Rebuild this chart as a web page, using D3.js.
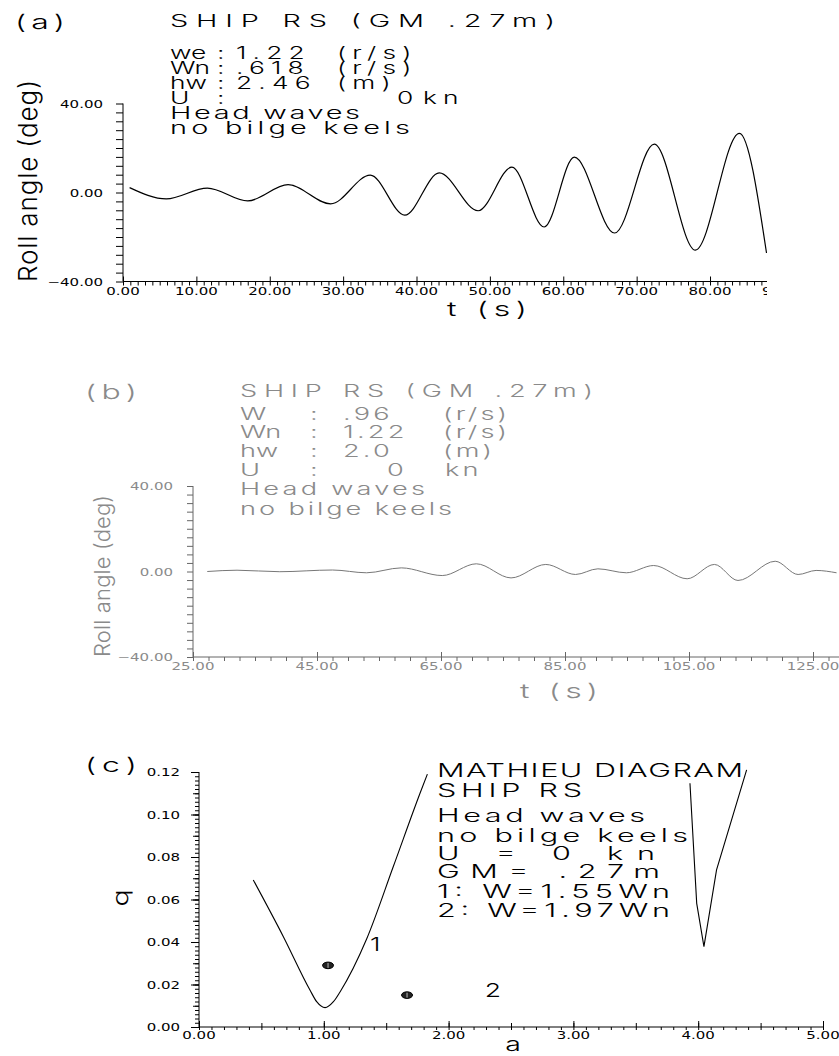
<!DOCTYPE html>
<html><head><meta charset="utf-8">
<script src="https://cdn.jsdelivr.net/npm/d3@7"></script>
<style>body{margin:0;background:#fff} svg{display:block}</style>
</head><body>
<script>
// ---------------- data ----------------
// (a) roll time history, extrema
const timeA = [0.9, 5.9, 11.5, 17.0, 22.5, 28.3, 33.7, 38.4, 43.1, 48.4, 53.0, 57.4, 61.5, 67.0, 72.4, 78.0, 84.0, 87.7];
const rollA = [2.2, -2.9, 2.0, -3.8, 3.5, -5.1, 7.8, -10.2, 8.8, -8.2, 11.4, -15.5, 15.9, -18.2, 21.7, -25.9, 26.6, -27.2];
const xTicksA = [0, 10, 20, 30, 40, 50, 60, 70, 80, 90];
const yTicksA = [-40, 0, 40];
// (b) roll time history
const timeB = [27.3, 32.1, 39.0, 47.5, 53.0, 58.6, 65.2, 70.7, 76.3, 81.9, 86.7, 90.3, 94.9, 99.3, 104.7, 109.1, 112.9, 118.9, 122.6, 125.5, 128.8];
const rollB = [0.0, 0.6, -0.1, 0.7, -0.6, 1.7, -1.9, 3.6, -3.0, 3.3, -1.4, 1.25, -0.6, 2.8, -3.4, 3.3, -4.2, 4.8, -1.4, 0.5, -0.6];
const xTicksB = [25, 45, 65, 85, 105, 125];
const yTicksB = [-40, 0, 40];
// (c) Mathieu diagram boundaries
const curve1A = [0.435, 0.676, 0.889, 0.943, 1.01, 1.077, 1.13, 1.344, 1.557, 1.771, 1.83];
const curve1Q = [0.0692, 0.0425, 0.0174, 0.0119, 0.0091, 0.0119, 0.0165, 0.0415, 0.0755, 0.110, 0.119];
const curve2A = [3.934, 3.988, 4.046, 4.147, 4.388];
const curve2Q = [0.1147, 0.0582, 0.0378, 0.0739, 0.121];
const pointA = [1.034, 1.667];
const pointQ = [0.029, 0.015];
const pointNames = ["1", "2"];
const nameA = [1.37, 2.29];
const nameQ = [0.036, 0.014];
const xTicksC = [0, 1, 2, 3, 4, 5];
const yTicksC = [0, 0.02, 0.04, 0.06, 0.08, 0.10, 0.12];

const infoA = [["we", ":", "1.22", "(r/s)"], ["Wn", ":", ".618", "(r/s)"], ["hw", ":", "2.46", "(m)"], ["U", ":", "0", "kn"]];
const infoB = [["W", ":", ".96", "(r/s)"], ["Wn", ":", "1.22", "(r/s)"], ["hw", ":", "2.0", "(m)"], ["U", ":", "0", "kn"]];
const notesC = ["MATHIEU  DIAGRAM", "SHIP  RS", "Head  waves", "no  bilge  keels", "U  =  0  kn", "GM=  .27m", "1:  W=1.55Wn", "2:  W=1.97Wn"];

// ---------------- helpers ----------------
const FONT = "Inter, Lato, Roboto, 'DejaVu Sans', sans-serif";
const TFONT = "'DejaVu Sans', Verdana, sans-serif";
const svg = d3.select("body").append("svg").attr("width", 839).attr("height", 1056);

function txt(g, x, y, s, o) {
  const sx = o.sx || 1;
  let tr = `translate(${x},${y})`;
  if (o.rot) tr += ` rotate(${o.rot})`;
  tr += ` scale(${sx},1)`;
  const t = g.append("text").attr("transform", tr)
    .attr("font-family", FONT).attr("font-weight", o.w || 300)
    .attr("font-size", o.size).attr("fill", o.fill || "#000")
    .attr("text-anchor", o.anchor || "start").text(s);
  if (o.len) t.attr("textLength", o.len / sx).attr("lengthAdjust", "spacing");
  return t;
}
// one text element per row, tokens placed as tspans
function row(g, x, y, toks, offs, lss, o) {
  const sx = o.sx;
  const t = g.append("text").attr("transform", `translate(${x},${y}) scale(${sx},1)`)
    .attr("font-family", FONT).attr("font-weight", 300)
    .attr("font-size", o.size).attr("fill", o.fill || "#000");
  toks.forEach((s, i) => t.append("tspan").attr("x", offs[i] / sx).attr("letter-spacing", lss[i]).text(s));
}
function tickLab(g, x, y, s, anchor, fill) {
  g.append("text").attr("transform", `translate(${x},${y}) scale(1.5,1)`)
    .attr("font-family", TFONT).attr("font-size", 10).attr("fill", fill)
    .attr("text-anchor", anchor).text(s);
}
function ticksX(g, scale, yPos, values, len, color) {
  g.append("g").attr("transform", `translate(0,${yPos})`).attr("color", color)
    .call(d3.axisBottom(scale).tickValues(values).tickSize(len).tickSizeOuter(0).tickFormat(""))
    .call(s => s.select(".domain").remove());
}
function ticksY(g, scale, xPos, values, len, color) {
  g.append("g").attr("transform", `translate(${xPos},0)`).attr("color", color)
    .call(d3.axisLeft(scale).tickValues(values).tickSize(len).tickSizeOuter(0).tickFormat(""))
    .call(s => s.select(".domain").remove());
}
const f2 = d3.format(".2f");
function range(a, b, st) { const r = []; for (let v = a; v <= b + 1e-9; v += st) r.push(+v.toFixed(4)); return r; }

// ---------------- panel (a) ----------------
{
  const x = d3.scaleLinear([0, 90], [123, 783.4]);
  const y = d3.scaleLinear([-40, 40], [281.5, 103.5]);
  svg.append("defs").append("clipPath").attr("id", "clipA").append("rect")
    .attr("x", 0).attr("y", 0).attr("width", 767).attr("height", 330);
  const g = svg.append("g").attr("clip-path", "url(#clipA)");
  const c = "#000";
  g.append("line").attr("x1", x(0)).attr("x2", x(90)).attr("y1", y(-40)).attr("y2", y(-40)).attr("stroke", c);
  g.append("line").attr("x1", x(0)).attr("x2", x(0)).attr("y1", y(-40)).attr("y2", y(40)).attr("stroke", c);
  ticksX(g, x, y(-40), range(0, 90, 1), 4, c);
  ticksX(g, x, y(-40), xTicksA, -5, c);
  ticksY(g, y, x(0), range(-40, 40, 4), 7, c);
  xTicksA.forEach(v => tickLab(g, x(v), y(-40) + 13, f2(v), "middle", c));
  yTicksA.forEach(v => tickLab(g, x(0) - 20, y(v) + 4, f2(v), "end", c));
  g.append("path").datum(timeA.map((t, i) => [t, rollA[i]]))
    .attr("fill", "none").attr("stroke", c).attr("stroke-width", 1.2)
    .attr("d", d3.line().x(d => x(d[0])).y(d => y(d[1])).curve(d3.curveMonotoneX));
  txt(svg, 37, 181, "Roll angle (deg)", { size: 26, rot: -90, anchor: "middle", len: 202 });
  txt(svg, 447, 316, "t (s)", { size: 20, sx: 1.6, len: 80 });
  txt(svg, 15, 29, "(a)", { size: 20, sx: 1.6, len: 50 });
  txt(svg, 170, 27, "SHIP RS (GM .27m)", { size: 17, sx: 1.7, len: 385 });
  const rows = [59, 73.5, 88.5, 103.5];
  infoA.forEach((r, i) => {
    const offs = i < 3 ? [0, 47, 66, 167] : [0, 47, 227, 253];
    row(svg, 170, rows[i], r, offs, [0, 0, 4, 4], { size: 17, sx: 1.55 });
  });
  txt(svg, 170, 118.5, "Head waves", { size: 17, sx: 1.7, len: 190 });
  txt(svg, 170, 133.5, "no bilge keels", { size: 17, sx: 1.7, len: 240 });
}

// ---------------- panel (b) ----------------
{
  const x = d3.scaleLinear([25, 125], [193, 813]);
  const y = d3.scaleLinear([-40, 40], [657, 486]);
  const g = svg.append("g");
  const ca = "#666", ct = "#8a8a8a";
  g.append("line").attr("x1", x(25)).attr("x2", 839).attr("y1", y(-40)).attr("y2", y(-40)).attr("stroke", ca);
  g.append("line").attr("x1", x(25)).attr("x2", x(25)).attr("y1", y(-40)).attr("y2", y(40)).attr("stroke", ca);
  ticksX(g, x, y(-40), range(25, 127.5, 2.5), 4, ca);
  ticksX(g, x, y(-40), xTicksB, -5, ca);
  ticksY(g, y, x(25), range(-40, 40, 4), 6, ca);
  xTicksB.forEach(v => tickLab(g, x(v), y(-40) + 13, f2(v), "middle", ct));
  yTicksB.forEach(v => tickLab(g, x(25) - 20, y(v) + 4, f2(v), "end", ct));
  g.append("path").datum(timeB.map((t, i) => [t, rollB[i]]))
    .attr("fill", "none").attr("stroke", "#777").attr("stroke-width", 1)
    .attr("d", d3.line().x(d => x(d[0])).y(d => y(d[1])).curve(d3.curveMonotoneX));
  txt(svg, 110, 576, "Roll angle (deg)", { size: 22, rot: -90, anchor: "middle", len: 162, fill: ct });
  txt(svg, 520, 698, "t (s)", { size: 20, sx: 1.6, len: 78, fill: ct });
  txt(svg, 85, 399, "(b)", { size: 20, sx: 1.6, len: 52, fill: ct });
  txt(svg, 240, 397, "SHIP RS (GM .27m)", { size: 17, sx: 1.6, len: 353, fill: ct });
  const rows = [420, 438, 457, 476];
  infoB.forEach((r, i) => {
    const offs = i < 3 ? [0, 70, 103, 203] : [0, 70, 147, 205];
    row(svg, 240, rows[i], r, offs, [0, 0, 2, 2], { size: 17, sx: 1.6, fill: ct });
  });
  txt(svg, 240, 495, "Head waves", { size: 17, sx: 1.6, len: 185, fill: ct });
  txt(svg, 240, 515, "no bilge keels", { size: 17, sx: 1.6, len: 212, fill: ct });
}

// ---------------- panel (c) ----------------
{
  const x = d3.scaleLinear([0, 5], [199, 823]);
  const y = d3.scaleLinear([0, 0.12], [1027, 772]);
  const g = svg.append("g");
  const c = "#000";
  g.append("line").attr("x1", x(0)).attr("x2", x(5)).attr("y1", y(0)).attr("y2", y(0)).attr("stroke", c);
  g.append("line").attr("x1", x(0)).attr("x2", x(0)).attr("y1", y(0)).attr("y2", y(0.12)).attr("stroke", c);
  ticksX(g, x, y(0), range(0, 5, 0.1), 3, c);
  ticksX(g, x, y(0), range(0, 5, 0.5), -4, c);
  ticksX(g, x, y(0), xTicksC, -6, c);
  ticksY(g, y, x(0), range(0, 0.12, 0.002), 4, c);
  ticksY(g, y, x(0), range(0, 0.12, 0.01), 6, c);
  ticksY(g, y, x(0), yTicksC, 8, c);
  xTicksC.forEach(v => tickLab(g, x(v), y(0) + 12, f2(v), "middle", c));
  yTicksC.forEach(v => tickLab(g, x(0) - 19, y(v) + 4, f2(v), "end", c));
  g.append("path").datum(curve1A.map((a, i) => [a, curve1Q[i]]))
    .attr("fill", "none").attr("stroke", c).attr("stroke-width", 1.1)
    .attr("d", d3.line().x(d => x(d[0])).y(d => y(d[1])).curve(d3.curveMonotoneX));
  g.append("path").datum(curve2A.map((a, i) => [a, curve2Q[i]]))
    .attr("fill", "none").attr("stroke", c).attr("stroke-width", 1.1)
    .attr("d", d3.line().x(d => x(d[0])).y(d => y(d[1])));
  pointA.forEach((a, i) => {
    g.append("ellipse").attr("cx", x(a)).attr("cy", y(pointQ[i])).attr("rx", 5.5).attr("ry", 3.3)
      .attr("fill", "#222").attr("stroke", "#000");
    g.append("line").attr("x1", x(a)).attr("x2", x(a)).attr("y1", y(pointQ[i]) - 2.5).attr("y2", y(pointQ[i]) + 2.5)
      .attr("stroke", "#bbb").attr("stroke-width", 1);
    txt(g, x(nameA[i]), y(nameQ[i]), pointNames[i], { size: 19, sx: 1.4 });
  });
  txt(svg, 128, 898, "q", { size: 22, rot: -90, anchor: "middle", sx: 1.3 });
  txt(svg, 513, 1051, "a", { size: 19, anchor: "middle", sx: 1.5 });
  txt(svg, 85, 772, "(c)", { size: 20, sx: 1.6, len: 52 });
  const ys = [777, 797, 822, 842, 860, 878, 898, 917];
  const ws = [306, 145, 208, 251, 218, 223, 233, 233];
  notesC.forEach((s, i) => txt(svg, 437, ys[i], s, { size: 18, sx: 1.7, len: ws[i] }));
}
</script>
</body></html>
